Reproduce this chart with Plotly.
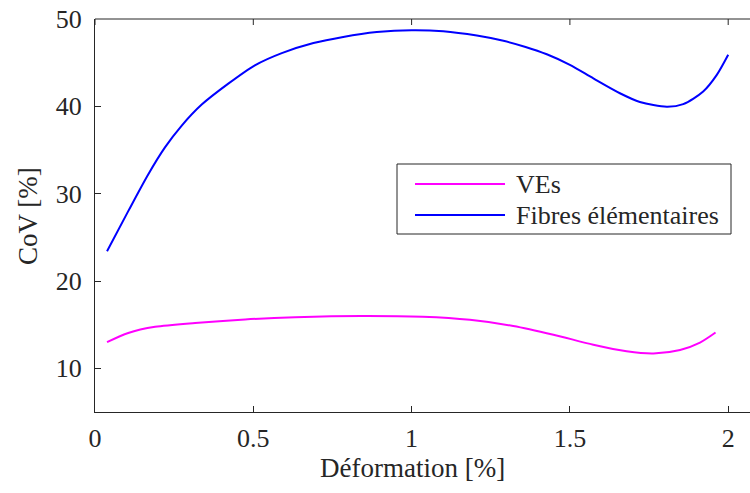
import plotly.graph_objects as go

# ---- data ----
fib_x = [0.038, 0.105, 0.168, 0.221, 0.274, 0.337, 0.421, 0.505, 0.590, 0.690,
         0.784, 0.890, 1.000, 1.100, 1.206, 1.290, 1.360, 1.427, 1.500, 1.574,
         1.658, 1.721, 1.806, 1.858, 1.921, 1.964, 2.000]
fib_y = [23.4, 28.0, 32.2, 35.3, 37.8, 40.2, 42.6, 44.7, 46.1, 47.25,
         47.95, 48.5, 48.72, 48.6, 48.1, 47.5, 46.8, 45.96, 44.75, 43.2,
         41.5, 40.5, 39.95, 40.25, 41.7, 43.6, 45.9]

ve_x = [0.038, 0.105, 0.190, 0.316, 0.474, 0.632, 0.842, 1.035, 1.184, 1.321,
        1.448, 1.574, 1.679, 1.764, 1.848, 1.911, 1.960]
ve_y = [13.0, 14.05, 14.75, 15.2, 15.6, 15.85, 16.0, 15.9, 15.55, 14.85,
        13.85, 12.7, 11.95, 11.7, 12.1, 12.95, 14.1]

x_ticks = [0, 0.5, 1, 1.5, 2]
x_tick_labels = ["0", "0.5", "1", "1.5", "2"]
y_ticks = [10, 20, 30, 40, 50]
y_tick_labels = ["10", "20", "30", "40", "50"]

series_names = ["VEs", "Fibres élémentaires"]
series_colors = ["#ff00ff", "#0000ff"]

# ---- layout geometry (pixels) ----
W, H = 750, 493
L, T, B, R = 95, 19, 81, 0
PW, PH = W - L - R, H - T - B

def px_x(p):
    return (p - L) / PW

def px_y(p):
    return (H - B - p) / PH

FONT = "Liberation Serif"
FS = 26
TXT = "#262626"
AX = "#262626"

fig = go.Figure()
fig.add_trace(go.Scatter(x=ve_x, y=ve_y, mode="lines", name=series_names[0],
                         line=dict(color=series_colors[0], width=2, shape="spline", smoothing=0.8),
                         showlegend=False))
fig.add_trace(go.Scatter(x=fib_x, y=fib_y, mode="lines", name=series_names[1],
                         line=dict(color=series_colors[1], width=2, shape="spline", smoothing=0.8),
                         showlegend=False))

xr = [0, PW / 316.6]
fig.update_layout(
    width=W, height=H,
    margin=dict(l=L, r=R, t=T, b=B, pad=0, autoexpand=False),
    paper_bgcolor="white", plot_bgcolor="white",
    font=dict(family=FONT, size=FS, color=TXT),
    showlegend=False,
    xaxis=dict(range=xr, tickvals=x_ticks, ticktext=x_tick_labels,
               ticks="inside", ticklen=6, tickwidth=1, tickcolor=AX,
               showline=True, linecolor=AX, linewidth=1,
               showgrid=False, zeroline=False, automargin=False,
               ticklabelstandoff=3,
               tickfont=dict(family=FONT, size=FS, color=TXT)),
    yaxis=dict(range=[5, 50], tickvals=y_ticks, ticktext=y_tick_labels,
               ticks="inside", ticklen=6, tickwidth=1, tickcolor=AX,
               showline=True, linecolor=AX, linewidth=1,
               showgrid=False, zeroline=False, automargin=False,
               ticklabelstandoff=7,
               tickfont=dict(family=FONT, size=FS, color=TXT)),
)

# top box edge with its tick marks
fig.add_shape(type="line", xref="paper", yref="paper", x0=0, x1=1, y0=1, y1=1,
              line=dict(color=AX, width=1), layer="above")
for tv in x_ticks:
    fig.add_shape(type="line", xref="x", yref="paper", x0=tv, x1=tv,
                  y0=1, y1=1 - 6 / PH, line=dict(color=AX, width=1), layer="above")

# axis titles
fig.add_annotation(text="Déformation [%]", xref="paper", yref="paper",
                   x=px_x(412), y=px_y(468), xanchor="center", yanchor="middle",
                   showarrow=False, font=dict(family=FONT, size=27, color=TXT))
fig.add_annotation(text="CoV [%]", xref="paper", yref="paper",
                   x=px_x(28), y=px_y(216), xanchor="center", yanchor="middle",
                   textangle=-90, showarrow=False,
                   font=dict(family=FONT, size=27, color=TXT))

# legend box (drawn manually to match long line samples)
fig.add_shape(type="rect", xref="paper", yref="paper",
              x0=px_x(397), x1=px_x(731), y0=px_y(234), y1=px_y(164),
              line=dict(color=AX, width=1), fillcolor="white", layer="above")
for i, (nm, col) in enumerate(zip(series_names, series_colors)):
    yy = [184, 215][i]
    fig.add_shape(type="line", xref="paper", yref="paper",
                  x0=px_x(415), x1=px_x(505), y0=px_y(yy), y1=px_y(yy),
                  line=dict(color=col, width=2), layer="above")
    fig.add_annotation(text=nm, xref="paper", yref="paper",
                       x=px_x(514), y=px_y(yy), xanchor="left", yanchor="middle",
                       showarrow=False, font=dict(family=FONT, size=FS, color=TXT))

fig.write_html("out.html", config={"displayModeBar": False},
               post_script="document.body.style.margin='0';")
